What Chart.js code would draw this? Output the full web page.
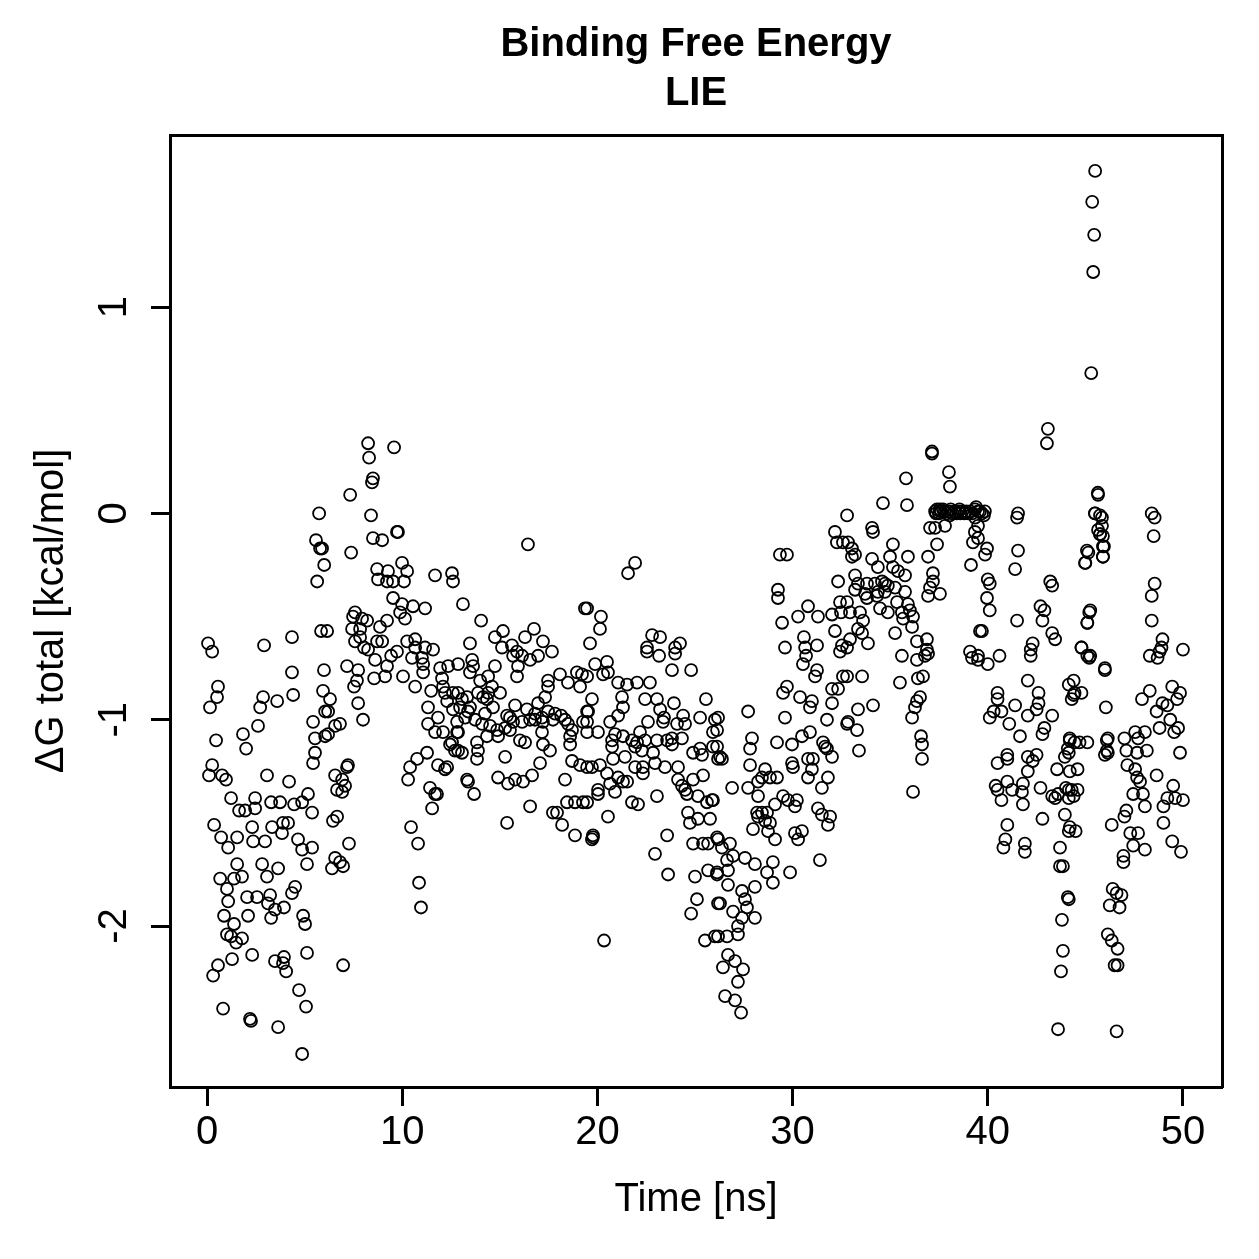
<!DOCTYPE html>
<html>
<head>
<meta charset="utf-8">
<title>Binding Free Energy - LIE</title>
<script src="https://cdn.jsdelivr.net/npm/chart.js@4/dist/chart.umd.min.js"></script>
<style>
  html, body { margin: 0; padding: 0; background: #fff; }
  canvas { display: block; }
</style>
</head>
<body>
<canvas id="lie" width="1259" height="1259"></canvas>
<script>
// LIE binding free energy over the trajectory, [time ns, dG kcal/mol]
// values, split by time window

const span0to6 = [
  [0.05,-0.63],[0.26,-0.67],[2.92,-0.64],[4.35,-0.60],[5.84,-0.57],[4.35,-0.77],[5.99,-0.76],[0.56,-0.84],
  [0.51,-0.89],[0.15,-0.94],[2.87,-0.89],[2.72,-0.94],[3.59,-0.91],[4.41,-0.88],[5.94,-0.86],[2.61,-1.03],
  [1.84,-1.07],[2.0,-1.14],[0.46,-1.10],[5.43,-1.01],[5.53,-1.09],[5.53,-1.16],[5.43,-1.21],[6.05,-0.96],
  [6.05,-1.08],[0.26,-1.22],[0.10,-1.27],[0.77,-1.27],[0.97,-1.29],[3.07,-1.27],[4.2,-1.30],[1.23,-1.38],
  [2.46,-1.38],[5.17,-1.36],[1.64,-1.44],[1.95,-1.44],[2.46,-1.43],[3.28,-1.40],[3.74,-1.40],[4.46,-1.41],
  [4.87,-1.40],[5.38,-1.45],[2.31,-1.52],[3.33,-1.52],[3.89,-1.50],[4.15,-1.50],[3.84,-1.55],[0.36,-1.51],
  [0.72,-1.57],[1.08,-1.62],[1.54,-1.57],[2.36,-1.59],[2.97,-1.59],[4.66,-1.58],[4.87,-1.63],[5.38,-1.62],
  [1.54,-1.70],[2.82,-1.70],[3.64,-1.72],[0.67,-1.77],[1.38,-1.77],[1.79,-1.76],[3.07,-1.76],[5.12,-1.70],
  [1.02,-1.82],[1.08,-1.88],[2.05,-1.86],[2.56,-1.86],[3.23,-1.85],[3.12,-1.89],[3.48,-1.92],[3.94,-1.91],
  [3.28,-1.96],[4.35,-1.84],[4.51,-1.81],[4.92,-1.95],[5.02,-1.99],[0.87,-1.95],[2.10,-1.95],[1.38,-1.99],
  [1.02,-2.04],[1.23,-2.05],[1.79,-2.06],[1.49,-2.08],[1.28,-2.16],[2.31,-2.14],[3.48,-2.17],[3.94,-2.15],
  [4.05,-2.22],[3.89,-2.18],[5.12,-2.13],[0.56,-2.19],[0.31,-2.24],[4.71,-2.31],[0.82,-2.40],[5.07,-2.39],
  [2.2,-2.45],[2.25,-2.46],[3.64,-2.49],[4.87,-2.62],[5.74,0.0],[5.58,-0.13],[5.79,-0.17],[5.89,-0.17],
  [5.64,-0.33],[6.0,-0.25]
];

const span6to13 = [
  [8.25,0.34],[9.58,0.32],[8.3,0.27],[8.5,0.17],[8.45,0.15],[7.33,0.09],[8.4,-0.01],[9.78,-0.09],
  [9.73,-0.09],[8.5,-0.12],[8.97,-0.13],[7.38,-0.19],[8.71,-0.27],[9.27,-0.28],[9.99,-0.24],[10.25,-0.28],
  [8.76,-0.32],[9.22,-0.33],[9.53,-0.33],[10.09,-0.33],[11.68,-0.30],[12.55,-0.29],[12.6,-0.33],[9.53,-0.41],
  [9.99,-0.44],[10.55,-0.45],[11.17,-0.46],[9.89,-0.48],[10.14,-0.51],[7.58,-0.48],[7.48,-0.50],[7.94,-0.51],
  [8.2,-0.52],[7.43,-0.56],[7.84,-0.56],[8.86,-0.55],[9.22,-0.52],[7.58,-0.62],[7.84,-0.60],[8.04,-0.65],
  [8.25,-0.66],[8.71,-0.62],[8.97,-0.62],[10.25,-0.62],[10.66,-0.61],[10.66,-0.65],[11.17,-0.65],[11.58,-0.66],
  [9.73,-0.67],[9.43,-0.69],[10.5,-0.70],[11.01,-0.70],[11.07,-0.73],[11.07,-0.77],[11.94,-0.75],[12.35,-0.74],
  [8.61,-0.71],[9.22,-0.74],[9.12,-0.79],[8.56,-0.80],[10.04,-0.79],[10.66,-0.84],[7.17,-0.74],[7.74,-0.76],
  [7.68,-0.81],[7.53,-0.84],[7.74,-0.92],[7.99,-1.0],[11.48,-0.86],[12.04,-0.80],[12.09,-0.84],[12.19,-0.87],
  [12.3,-0.91],[12.6,-0.87],[11.32,-0.94],[11.83,-0.99],[12.6,-0.95],[11.32,-1.02],[11.68,-1.06],[12.09,-1.06],
  [12.55,-1.11],[12.45,-1.12],[12.7,-1.15],[12.81,-1.06],[11.27,-1.16],[10.76,-1.19],[10.4,-1.23],[10.3,-1.29],
  [11.83,-1.22],[12.19,-1.24],[12.3,-1.23],[11.42,-1.33],[11.68,-1.36],[11.78,-1.36],[11.53,-1.43],[10.45,-1.52],
  [10.81,-1.60],[10.86,-1.79],[10.96,-1.91],[6.3,-0.90],[6.2,-0.96],[6.81,-1.02],[6.56,-1.03],[6.2,-1.07],
  [7.17,-1.23],[7.22,-1.22],[6.56,-1.27],[6.92,-1.29],[7.07,-1.32],[6.66,-1.34],[6.92,-1.35],[6.66,-1.47],
  [6.45,-1.49],[7.27,-1.60],[6.56,-1.67],[6.81,-1.69],[6.97,-1.71],[6.4,-1.72],[6.97,-2.19],[6.15,-0.57]
];

const span13to20 = [
  [16.44,-0.15],[13.11,-0.44],[14.04,-0.52],[19.36,-0.46],[13.47,-0.63],[14.75,-0.60],[15.16,-0.57],[15.11,-0.65],
  [15.62,-0.64],[15.88,-0.67],[16.29,-0.60],[16.75,-0.56],[17.21,-0.62],[17.67,-0.67],[15.68,-0.69],[16.14,-0.69],
  [16.55,-0.71],[16.96,-0.69],[15.93,-0.74],[14.75,-0.74],[13.58,-0.71],[13.63,-0.74],[13.47,-0.77],[12.86,-0.73],
  [14.4,-0.79],[13.99,-0.81],[15.88,-0.79],[17.47,-0.81],[17.47,-0.84],[18.08,-0.78],[18.49,-0.82],[18.95,-0.77],
  [19.21,-0.78],[19.11,-0.84],[14.6,-0.84],[12.86,-0.87],[13.06,-0.90],[13.32,-0.89],[13.88,-0.87],[14.14,-0.89],
  [14.4,-0.87],[14.34,-0.90],[15.01,-0.87],[17.32,-0.89],[16.96,-0.92],[15.78,-0.93],[12.96,-0.94],[13.47,-0.94],
  [13.37,-0.96],[14.65,-0.94],[14.24,-0.97],[15.37,-0.98],[15.52,-0.99],[16.39,-0.95],[16.8,-0.97],[17.16,-0.99],
  [17.47,-0.96],[17.83,-0.97],[18.14,-0.98],[18.34,-1.0],[19.47,-0.96],[13.22,-0.99],[12.81,-1.01],[13.73,-1.0],
  [14.09,-1.02],[14.5,-1.03],[14.86,-1.05],[15.27,-1.04],[15.68,-1.01],[16.14,-1.01],[16.55,-1.0],[16.8,-1.0],
  [17.21,-1.01],[17.72,-1.0],[18.49,-1.02],[18.7,-1.05],[19.26,-1.01],[12.86,-1.06],[12.86,-1.15],[13.06,-1.16],
  [13.83,-1.11],[13.88,-1.15],[13.83,-1.19],[14.34,-1.08],[14.91,-1.08],[15.52,-1.05],[16.03,-1.10],[16.29,-1.11],
  [17.16,-1.06],[17.21,-1.12],[17.57,-1.15],[18.6,-1.08],[18.6,-1.12],[15.27,-1.18],[14.91,-1.28],[15.42,-1.31],
  [15.78,-1.29],[16.19,-1.30],[16.65,-1.27],[17.06,-1.21],[18.7,-1.20],[19.11,-1.22],[19.47,-1.23],[18.34,-1.29],
  [13.32,-1.29],[13.37,-1.30],[13.68,-1.36],[16.55,-1.42],[17.72,-1.45],[17.93,-1.45],[18.19,-1.51],[18.44,-1.40],
  [18.85,-1.40],[19.26,-1.40],[18.85,-1.56],[15.37,-1.50],[19.72,-1.58]
];

const span20to26 = [
  [21.93,-0.24],[21.57,-0.29],[19.47,-0.46],[20.18,-0.50],[20.13,-0.56],[19.62,-0.63],[22.8,-0.59],[23.21,-0.60],
  [22.54,-0.65],[22.54,-0.67],[23.16,-0.69],[23.98,-0.65],[24.23,-0.63],[23.98,-0.68],[23.82,-0.76],[24.8,-0.76],
  [19.88,-0.73],[20.49,-0.72],[20.29,-0.78],[20.54,-0.77],[19.47,-0.79],[21.06,-0.82],[21.52,-0.83],[22.03,-0.82],
  [22.69,-0.82],[21.26,-0.89],[19.72,-0.90],[22.44,-0.90],[23.05,-0.90],[23.92,-0.92],[25.56,-0.90],[21.31,-0.94],
  [19.52,-0.96],[23.21,-0.95],[23.41,-0.99],[24.39,-0.98],[25.26,-0.99],[26.02,-1.0],[21.06,-0.98],[20.65,-1.01],
  [19.47,-1.01],[20.03,-1.06],[19.47,-1.06],[22.59,-1.01],[23.36,-1.01],[24.08,-1.02],[24.49,-1.02],[25.92,-1.06],
  [22.18,-1.06],[20.9,-1.07],[21.31,-1.08],[20.75,-1.10],[21.77,-1.10],[22.03,-1.11],[22.44,-1.10],[23.05,-1.10],
  [23.57,-1.10],[23.82,-1.09],[24.33,-1.09],[20.75,-1.13],[21.93,-1.13],[22.28,-1.15],[22.85,-1.16],[23.82,-1.12],
  [24.9,-1.16],[25.26,-1.14],[25.36,-1.17],[25.92,-1.13],[26.18,-1.19],[21.41,-1.18],[20.8,-1.19],[21.93,-1.23],
  [22.33,-1.23],[22.95,-1.21],[23.46,-1.23],[24.13,-1.23],[22.33,-1.26],[19.72,-1.23],[20.13,-1.22],[20.49,-1.26],
  [20.65,-1.31],[21.06,-1.28],[21.31,-1.30],[21.52,-1.30],[24.13,-1.29],[24.33,-1.32],[25.41,-1.27],[24.9,-1.29],
  [24.49,-1.34],[24.59,-1.36],[25.15,-1.37],[25.61,-1.40],[25.87,-1.39],[25.92,-1.39],[20.03,-1.34],[20.03,-1.36],
  [20.9,-1.35],[21.77,-1.40],[22.08,-1.41],[23.05,-1.37],[19.47,-1.40],[20.54,-1.47],[24.64,-1.45],[24.74,-1.50],
  [25.15,-1.48],[25.77,-1.48],[19.77,-1.56],[19.77,-1.57],[23.57,-1.56],[22.95,-1.65],[24.9,-1.60],[25.41,-1.60],
  [25.67,-1.60],[26.18,-1.58],[23.62,-1.75],[25.0,-1.76],[25.67,-1.73],[26.13,-1.75],[25.1,-1.87],[24.8,-1.94],
  [26.18,-1.89],[20.34,-2.07],[25.51,-2.07],[26.02,-2.05]
];

const span26to33 = [
  [32.17,-0.09],[32.27,-0.14],[32.58,-0.14],[29.35,-0.20],[29.71,-0.20],[32.33,-0.33],[29.25,-0.37],[29.25,-0.41],
  [32.43,-0.43],[30.79,-0.45],[30.28,-0.50],[31.3,-0.50],[32.02,-0.49],[32.48,-0.48],[29.46,-0.53],[32.17,-0.57],
  [30.58,-0.60],[30.64,-0.65],[31.25,-0.64],[32.53,-0.64],[32.43,-0.67],[29.61,-0.65],[30.69,-0.69],[30.53,-0.73],
  [31.25,-0.76],[31.15,-0.79],[32.58,-0.79],[32.02,-0.85],[32.33,-0.85],[29.71,-0.84],[29.51,-0.87],[30.38,-0.89],
  [30.99,-0.91],[30.89,-0.94],[32.02,-0.92],[31.76,-1.0],[32.79,-1.02],[29.61,-0.99],[27.72,-0.96],[26.18,-0.99],
  [26.13,-1.05],[27.92,-1.09],[27.82,-1.14],[29.2,-1.11],[29.97,-1.12],[30.48,-1.08],[30.89,-1.06],[31.56,-1.11],
  [31.66,-1.13],[31.76,-1.14],[32.02,-1.18],[26.13,-1.13],[26.28,-1.18],[26.38,-1.19],[27.82,-1.22],[28.59,-1.24],
  [29.2,-1.28],[28.43,-1.28],[28.23,-1.30],[26.9,-1.33],[27.72,-1.33],[28.23,-1.37],[28.84,-1.28],[29.97,-1.21],
  [30.02,-1.23],[30.79,-1.19],[31.04,-1.19],[30.99,-1.24],[30.79,-1.28],[31.81,-1.28],[31.5,-1.33],[29.51,-1.37],
  [29.76,-1.39],[30.22,-1.39],[30.12,-1.42],[29.1,-1.41],[28.18,-1.45],[28.43,-1.45],[28.69,-1.45],[28.23,-1.47],
  [28.59,-1.49],[28.84,-1.50],[27.97,-1.53],[28.74,-1.54],[29.1,-1.58],[31.3,-1.43],[31.5,-1.46],[31.92,-1.47],
  [31.81,-1.51],[30.12,-1.55],[30.48,-1.54],[30.28,-1.58],[31.4,-1.68],[26.13,-1.57],[26.38,-1.62],[26.79,-1.60],
  [26.95,-1.66],[26.64,-1.68],[26.13,-1.74],[26.69,-1.73],[27.56,-1.67],[28.07,-1.70],[28.69,-1.74],[28.99,-1.69],
  [28.99,-1.79],[29.87,-1.74],[26.69,-1.80],[27.41,-1.83],[27.56,-1.87],[28.07,-1.81],[26.28,-1.89],[26.95,-1.93],
  [27.66,-1.91],[28.07,-1.96],[27.41,-1.96],[27.2,-2.0],[26.18,-2.05],[26.64,-2.05],[27.2,-2.04],[26.69,-2.14],
  [27.05,-2.17],[26.43,-2.20],[27.46,-2.21],[27.2,-2.27],[26.54,-2.34],[27.05,-2.36],[27.36,-2.42]
];

const span33to40 = [
  [37.14,0.30],[37.14,0.29],[38.01,0.20],[38.06,0.13],[35.81,0.17],[34.63,0.05],[35.86,0.04],
  [37.3,0.01],[37.4,0.02],[37.5,0.0],[37.6,0.01],[37.7,0.02],[37.8,0.01],[37.9,0.0],[38.0,0.01],
  [38.1,0.02],[38.2,0.0],[38.3,0.01],[38.4,0.0],[38.5,0.01],[38.6,0.0],[38.7,0.01],[38.8,0.0],
  [38.9,0.01],[39.0,0.0],[39.1,0.01],[39.2,0.0],[39.35,0.02],[39.5,0.01],[39.7,0.0],[39.85,0.01],
  [37.35,0.0],[37.55,0.02],[38.05,-0.01],[38.55,0.02],
  [37.04,-0.07],[37.3,-0.07],[37.81,-0.06],[39.34,-0.09],[39.24,-0.14],[37.4,-0.15],[36.94,-0.21],[39.14,-0.25],
  [32.79,-0.01],[34.07,-0.07],[34.12,-0.09],[32.84,-0.14],[33.04,-0.17],[33.04,-0.21],[33.2,-0.20],[35.14,-0.15],
  [34.99,-0.21],[35.91,-0.21],[34.07,-0.22],[34.37,-0.26],[35.14,-0.26],[35.4,-0.28],[35.76,-0.30],[33.2,-0.30],
  [33.35,-0.34],[33.81,-0.34],[34.22,-0.34],[34.58,-0.33],[34.73,-0.34],[34.88,-0.35],[35.25,-0.36],[33.2,-0.37],
  [33.71,-0.39],[34.37,-0.38],[34.73,-0.38],[35.76,-0.38],[33.81,-0.41],[34.32,-0.40],[35.35,-0.43],[35.91,-0.44],
  [34.48,-0.46],[36.01,-0.47],[37.04,-0.36],[37.55,-0.39],[37.19,-0.29],[37.19,-0.33],[36.94,-0.40],[32.79,-0.43],
  [32.94,-0.48],[33.45,-0.48],[33.61,-0.52],[34.88,-0.48],[35.6,-0.48],[35.66,-0.51],[36.17,-0.50],[36.12,-0.55],
  [35.25,-0.58],[33.35,-0.56],[33.56,-0.58],[33.86,-0.63],[32.94,-0.61],[32.79,-0.65],[36.37,-0.62],[36.88,-0.61],
  [36.88,-0.66],[36.94,-0.68],[36.78,-0.69],[36.37,-0.71],[35.6,-0.69],[32.79,-0.79],[33.56,-0.79],[35.5,-0.82],
  [36.42,-0.80],[36.68,-0.79],[39.09,-0.67],[39.19,-0.70],[39.5,-0.71],[39.6,-0.57],[34.12,-0.93],[33.35,-0.95],
  [36.53,-0.89],[36.37,-0.91],[36.27,-0.94],[36.12,-0.99],[32.84,-1.01],[33.3,-1.05],[36.58,-1.08],[36.63,-1.12],
  [33.4,-1.15],[36.63,-1.19],[36.17,-1.35]
];

const span40to46 = [
  [43.08,0.41],[43.03,0.34],[45.64,0.10],[45.49,0.0],[45.75,-0.01],[45.85,-0.06],[45.75,-0.10],[45.9,-0.11],
  [45.9,-0.16],[45.9,-0.21],[45.08,-0.18],[44.98,-0.24],[39.4,0.03],[39.6,0.01],[39.8,-0.01],[39.35,-0.02],
  [41.55,0.0],[41.5,-0.02],[39.5,-0.06],[39.5,-0.12],[39.96,-0.17],[39.86,-0.20],[40.0,-0.32],[40.1,-0.34],
  [39.96,-0.41],[40.1,-0.47],[39.7,-0.57],[39.5,-0.69],[40.0,-0.73],[40.6,-0.69],[41.55,-0.18],[41.4,-0.27],
  [43.2,-0.33],[43.3,-0.35],[42.7,-0.45],[42.9,-0.47],[42.8,-0.52],[41.5,-0.52],[43.3,-0.58],[43.45,-0.61],
  [42.3,-0.63],[42.2,-0.66],[42.2,-0.69],[45.2,-0.48],[45.1,-0.53],[44.8,-0.65],[45.1,-0.69],[45.2,-0.70],
  [46.0,-0.75],[42.05,-0.81],[42.6,-0.87],[44.4,-0.81],[44.4,-0.88],[44.8,-0.87],[40.5,-0.87],[40.5,-0.90],
  [40.3,-0.96],[40.1,-0.99],[40.7,-0.96],[41.4,-0.93],[41.1,-1.02],[41.65,-1.08],[42.05,-0.98],[42.5,-0.95],
  [42.6,-0.92],[43.3,-0.98],[42.9,-1.04],[42.8,-1.07],[44.2,-1.09],[44.7,-1.11],[45.1,-1.11],[44.1,-1.14],
  [43.95,-1.18],[46.1,-1.10],[46.1,-1.15],[46.0,-1.17],[41.0,-1.17],[41.0,-1.19],[40.5,-1.21],[42.05,-1.18],
  [42.5,-1.17],[42.3,-1.20],[43.55,-1.24],[42.05,-1.25],[44.6,-1.24],[44.3,-1.34],[44.6,-1.34],[40.4,-1.32],
  [40.5,-1.34],[41.0,-1.30],[41.25,-1.34],[41.8,-1.31],[41.75,-1.35],[41.8,-1.41],[40.7,-1.39],[42.7,-1.33],
  [43.3,-1.37],[43.45,-1.38],[43.6,-1.36],[44.0,-1.33],[44.4,-1.37],[42.8,-1.48],[43.95,-1.46],[44.2,-1.52],
  [44.5,-1.54],[41.0,-1.51],[40.9,-1.58],[40.8,-1.62],[41.9,-1.60],[41.9,-1.64],[43.7,-1.62],[43.7,-1.71],
  [43.85,-1.71],[44.1,-1.86],[43.8,-1.97],[43.85,-2.12],[43.75,-2.22],[43.6,-2.50]
];

const span45to50 = [
  [45.5,1.66],[45.35,1.51],[45.45,1.35],[45.4,1.17],[45.3,0.68],[45.65,0.09],[45.5,0.0],[45.85,-0.02],
  [45.65,-0.08],[45.75,-0.10],[45.95,-0.16],[45.9,-0.21],[45.15,-0.19],[45.0,-0.24],[48.4,0.0],[48.55,-0.02],
  [48.5,-0.11],[48.55,-0.34],[48.4,-0.40],[48.4,-0.52],[45.25,-0.47],[45.1,-0.53],[48.95,-0.61],[48.9,-0.65],
  [50.0,-0.66],[44.8,-0.65],[45.25,-0.69],[46.0,-0.76],[48.3,-0.69],[48.7,-0.70],[48.8,-0.67],[44.15,-0.83],
  [44.45,-0.87],[44.3,-0.90],[47.9,-0.90],[48.3,-0.86],[49.45,-0.84],[49.85,-0.87],[49.7,-0.90],[46.05,-0.94],
  [48.65,-0.96],[48.95,-0.92],[49.2,-0.93],[49.35,-1.0],[48.8,-1.04],[49.55,-1.06],[49.75,-1.04],[44.2,-1.10],
  [44.45,-1.11],[46.15,-1.09],[46.15,-1.16],[47.0,-1.09],[47.55,-1.06],[47.7,-1.09],[48.05,-1.06],[47.1,-1.15],
  [47.65,-1.16],[48.15,-1.15],[47.15,-1.22],[47.55,-1.24],[47.65,-1.28],[47.8,-1.30],[48.65,-1.27],[49.5,-1.32],
  [49.2,-1.38],[49.6,-1.38],[50.0,-1.39],[49.85,-1.16],[44.15,-1.16],[44.2,-1.25],[44.15,-1.34],[44.15,-1.38],
  [47.45,-1.36],[47.95,-1.36],[48.05,-1.42],[47.1,-1.44],[47.0,-1.47],[46.35,-1.51],[49.0,-1.42],[49.0,-1.50],
  [49.45,-1.59],[49.9,-1.64],[47.3,-1.55],[47.7,-1.55],[47.45,-1.61],[46.95,-1.66],[46.95,-1.69],[48.05,-1.63],
  [44.15,-1.54],[44.15,-1.87],[46.4,-1.82],[46.6,-1.84],[46.85,-1.85],[46.75,-1.91],[46.25,-1.90],[46.15,-2.04],
  [46.35,-2.07],[46.65,-2.11],[46.5,-2.19],[46.65,-2.19],[46.6,-2.51]
];

const timeTicks = [0, 10, 20, 30, 40, 50];
const dGTicks = [-2, -1, 0, 1];

const allPoints = [].concat(span0to6, span6to13, span13to20, span20to26,
  span26to33, span33to40, span40to46, span45to50)
  .map(p => ({ x: p[0], y: p[1] }));

const FONT = '"Liberation Sans", Arial, Helvetica, sans-serif';
const black = '#000';

// plain box edge for the top / right sides
const edgeAxis = (pos, fit) => ({
  type: 'linear',
  position: pos,
  min: 0,
  max: 1,
  afterFit: fit,
  ticks: { display: false },
  grid: { display: false, drawTicks: false },
  border: { display: true, color: black, width: 3 }
});

const ctx = document.getElementById('lie').getContext('2d');
const lieChart = new Chart(ctx, {
  type: 'scatter',
  data: {
    datasets: [{
      label: 'dG total',
      data: allPoints,
      pointStyle: 'circle',
      pointRadius: 6,
      pointHoverRadius: 6,
      pointBorderWidth: 1.8,
      borderColor: black,
      backgroundColor: 'rgba(0,0,0,0)'
    }]
  },
  options: {
    responsive: false,
    animation: false,
    devicePixelRatio: 1,
    layout: { padding: { left: 0, right: 37, top: 0, bottom: 0 } },
    plugins: {
      legend: { display: false },
      tooltip: { enabled: false },
      title: {
        display: true,
        fullSize: false,
        text: ['Binding Free Energy', 'LIE'],
        color: black,
        font: { family: FONT, size: 40, weight: 'bold', lineHeight: '49px' },
        padding: { top: 20, bottom: 17 }
      }
    },
    scales: {
      x: {
        type: 'linear',
        position: 'bottom',
        min: -1.9,
        max: 52,
        afterBuildTicks: s => { s.ticks = timeTicks.map(v => ({ value: v })); },
        afterFit: s => { s.height = 172; },
        grid: { display: true, drawOnChartArea: false, drawTicks: true, tickLength: 19, tickWidth: 3, tickColor: black },
        border: { display: true, color: black, width: 3 },
        ticks: { color: black, font: { family: FONT, size: 40 }, padding: 3, minRotation: 0, maxRotation: 0, callback: v => String(v) },
        title: { display: true, text: 'Time [ns]', color: black, font: { family: FONT, size: 40 }, padding: { top: 0, bottom: 35 } }
      },
      y: {
        type: 'linear',
        position: 'left',
        min: -2.78,
        max: 1.834,
        afterBuildTicks: s => { s.ticks = dGTicks.map(v => ({ value: v })); },
        afterFit: s => { s.width = 170; },
        grid: { display: true, drawOnChartArea: false, drawTicks: true, tickLength: 19, tickWidth: 3, tickColor: black },
        border: { display: true, color: black, width: 3 },
        ticks: { color: black, font: { family: FONT, size: 40 }, padding: 18, minRotation: 90, maxRotation: 90, crossAlign: 'center', callback: v => String(v) },
        title: { display: true, text: 'ΔG total [kcal/mol]', color: black, font: { family: FONT, size: 40 }, padding: { top: 28, bottom: 0 } }
      },
      xTop: edgeAxis('top', s => { s.height = 0; }),
      yRight: edgeAxis('right', s => { s.width = 0; })
    }
  }
});
</script>
</body>
</html>
